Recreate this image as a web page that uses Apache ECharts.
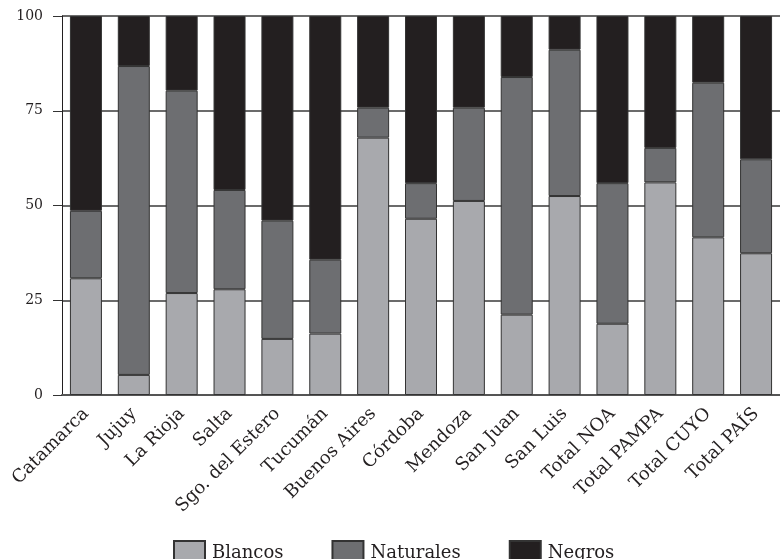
<!DOCTYPE html>
<html>
<head>
<meta charset="utf-8">
<style>
  html, body { margin: 0; padding: 0; background: #fff; }
  #chart { width: 780px; height: 559px; }
</style>
<script src="https://cdn.jsdelivr.net/npm/echarts@6/dist/echarts.min.js"></script>
</head>
<body>
<div id="chart"></div>
<script>
// categorias (provincias y regiones)
const categories = ['Catamarca', 'Jujuy', 'La Rioja', 'Salta', 'Sgo. del Estero', 'Tucumán',
  'Buenos Aires', 'Córdoba', 'Mendoza', 'San Juan', 'San Luis',
  'Total NOA', 'Total PAMPA', 'Total CUYO', 'Total PAÍS']
// porcentajes
const blancos = [30.8, 5.3, 26.9, 27.9, 14.8, 16.2, 67.9, 46.5, 51.2, 21.2, 52.5, 18.8, 56.1, 41.6, 37.4]
const naturales = [17.8, 81.5, 53.4, 26.2, 31.2, 19.5, 7.9, 9.4, 24.6, 62.7, 38.6, 37.1, 9.1, 40.8, 24.8]
const negros = [51.4, 13.2, 19.7, 45.9, 54.0, 64.3, 24.2, 44.1, 24.2, 16.1, 8.9, 44.1, 34.8, 17.6, 37.8]
const seriesNames = ['Blancos', 'Naturales', 'Negros']
const yTicks = [0, 25, 50, 75, 100]

const font = 'DejaVu Serif'
const colors = ['#a8a9ad', '#6d6e71', '#231f20']

const chart = echarts.init(document.getElementById('chart'))

const series = [blancos, naturales, negros].map((data, i) => ({
  name: seriesNames[i],
  type: 'bar',
  stack: 'total',
  barWidth: 32,
  data: data,
  itemStyle: {
    color: colors[i],
    borderColor: '#333',
    borderWidth: 1
  }
}))

chart.setOption({
  animation: false,
  textStyle: { fontFamily: font },
  grid: {
    left: 62,
    right: -6,
    top: 16,
    bottom: 164
  },
  legend: {
    data: seriesNames,
    left: 168,
    top: 535,
    itemWidth: 31,
    itemHeight: 24,
    itemGap: 48,
    icon: 'rect',
    textStyle: { fontFamily: font, fontSize: 18, color: '#231f20', padding: [0, 0, 0, 2] }
  },
  xAxis: {
    type: 'category',
    data: categories,
    axisLine: { lineStyle: { color: '#555', width: 2 } },
    axisTick: { show: false },
    axisLabel: {
      rotate: 45,
      interval: 0,
      margin: 16,
      fontFamily: font,
      fontSize: 18,
      color: '#231f20'
    }
  },
  yAxis: {
    type: 'value',
    min: 0,
    max: 100,
    interval: 25,
    axisLine: { show: true, lineStyle: { color: '#231f20', width: 1 } },
    axisTick: { show: true, length: 9, lineStyle: { color: '#333' } },
    axisLabel: {
      margin: 19,
      fontFamily: font,
      fontSize: 14,
      color: '#231f20',
      formatter: v => (yTicks.indexOf(v) >= 0 ? String(v) : '')
    },
    splitLine: { show: true, lineStyle: { color: '#3a3a3a', width: 1.5 } }
  },
  series: series
})
</script>
</body>
</html>
